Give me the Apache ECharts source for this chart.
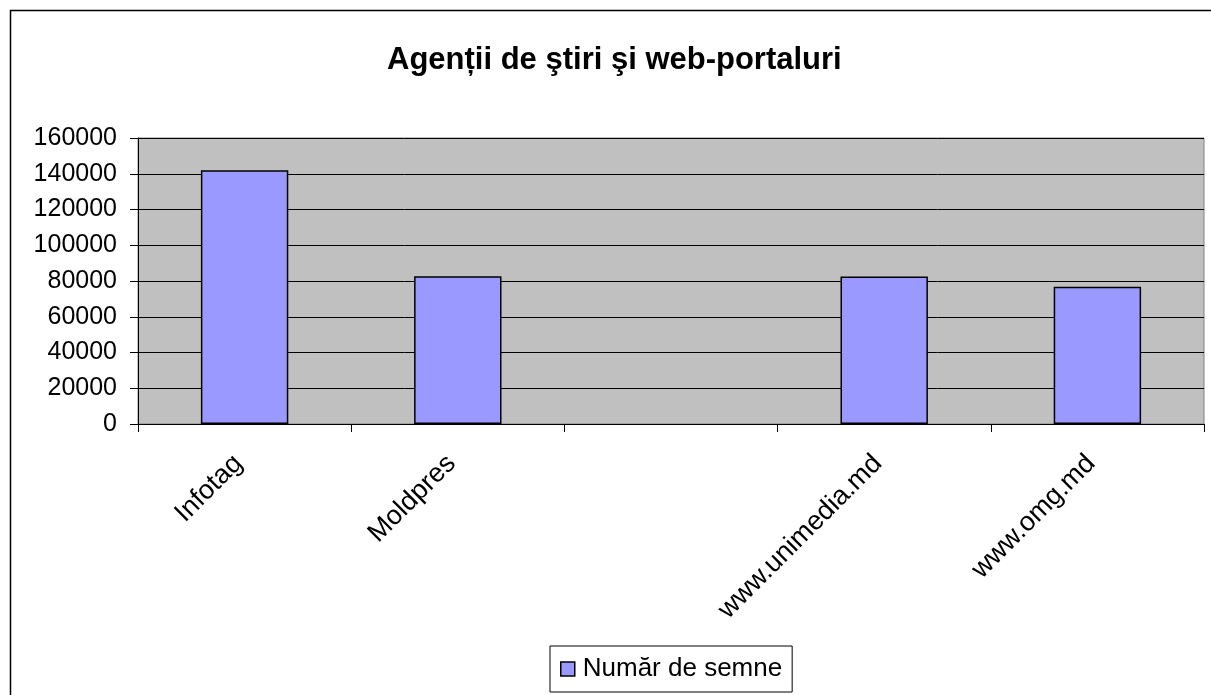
<!DOCTYPE html>
<html>
<head>
<meta charset="utf-8">
<script src="https://cdn.jsdelivr.net/npm/echarts@6/dist/echarts.min.js"></script>
<style>
  html, body { margin: 0; padding: 0; background: #fff; }
  #chart { width: 1211px; height: 695px; }
</style>
</head>
<body>
<div id="chart"></div>
<script>
// categorii (a treia coloană e goală în original)
const categories = ['Infotag', 'Moldpres', '', 'www.unimedia.md', 'www.omg.md']
const values = [142000, 82600, null, 82500, 76800]
const seriesName = 'Număr de semne'
const titleText = 'Agenții de ştiri şi web-portaluri'

const font = 'Liberation Sans, Arial, sans-serif'
const myChart = echarts.init(document.getElementById('chart'))

myChart.setOption({
  animation: false,
  backgroundColor: '#fff',
  title: {
    text: titleText,
    left: 382,
    top: 40,
    textStyle: { fontFamily: font, fontSize: 31, fontWeight: 'bold', color: '#000' }
  },
  graphic: [
    {
      type: 'rect',
      shape: { x: 10.5, y: 10.5, width: 1400, height: 900 },
      style: { fill: 'none', stroke: '#000', lineWidth: 1.5 },
      silent: true
    }
  ],
  legend: {
    left: 550,
    top: 646,
    padding: [10, 10],
    borderColor: '#000',
    borderWidth: 1,
    icon: 'rect',
    itemWidth: 14,
    itemHeight: 14,
    itemStyle: { borderColor: '#000', borderWidth: 1.5 },
    textStyle: { fontFamily: font, fontSize: 26, color: '#000', padding: [0, 0, 0, 3] },
    data: [seriesName]
  },
  grid: {
    left: 138,
    right: 7,
    top: 138,
    bottom: 271,
    show: true,
    backgroundColor: '#C0C0C0',
    borderColor: '#808080',
    borderWidth: 1
  },
  xAxis: {
    type: 'category',
    data: categories,
    axisLine: { lineStyle: { color: '#000', width: 1 } },
    axisTick: { show: true, length: 8, alignWithLabel: false, lineStyle: { color: '#000' } },
    axisLabel: {
      interval: 0,
      rotate: 45,
      margin: 29,
      padding: [0, 9, 0, 0],
      fontFamily: font,
      fontSize: 27,
      color: '#000'
    }
  },
  yAxis: {
    type: 'value',
    min: 0,
    max: 160000,
    interval: 20000,
    axisLine: { show: true, lineStyle: { color: '#000', width: 1 } },
    axisTick: { show: true, length: 8, lineStyle: { color: '#000' } },
    axisLabel: {
      margin: 21,
      fontFamily: font,
      fontSize: 25,
      color: '#000',
      formatter: v => String(v)
    },
    splitLine: { lineStyle: { color: '#000', width: 1 } }
  },
  series: [
    {
      name: seriesName,
      type: 'bar',
      data: values,
      barCategoryGap: '59%',
      itemStyle: { color: '#9999FF', borderColor: '#000', borderWidth: 1.5 }
    }
  ]
})
</script>
</body>
</html>
